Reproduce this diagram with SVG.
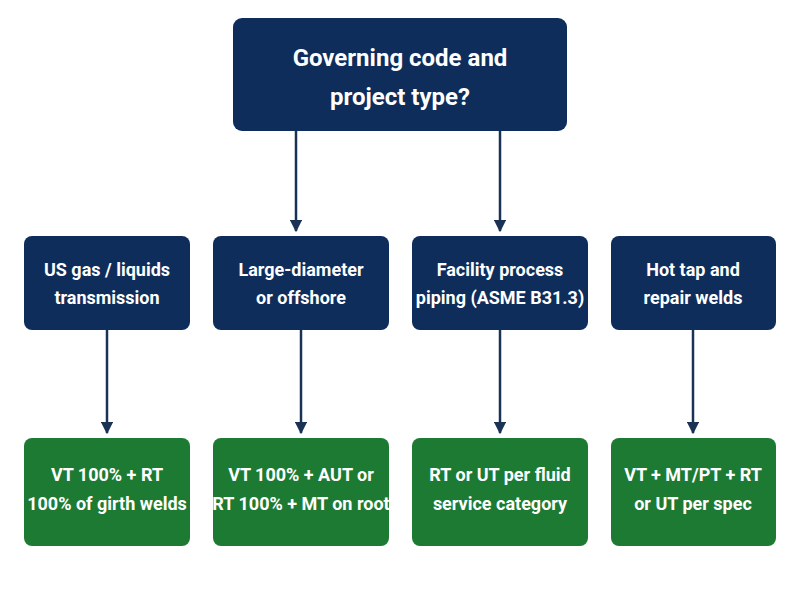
<svg xmlns="http://www.w3.org/2000/svg" width="800" height="600" viewBox="0 0 800 600">
<style>
.q{fill:#0e2d5b}
.r{fill:#1d7a33}
text{font-family:Roboto,"Liberation Sans",sans-serif;font-weight:bold;fill:#fff;text-anchor:middle}
.t{font-size:24px}
.s{font-size:18px}
.c{stroke:#1a3355;stroke-width:2.5;fill:none;marker-end:url(#a)}
</style>
<defs><marker id="a" viewBox="0 0 10 10" refX="9" refY="5" markerWidth="5" markerHeight="5" orient="auto"><path d="M0,0L10,5L0,10z" fill="#1a3355"/></marker></defs>
<rect width="800" height="600" fill="#fff"/>
<g id="connectors">
<path class="c" d="M296,131V231"/>
<path class="c" d="M500,131V231"/>
<path class="c" d="M107,330V433"/>
<path class="c" d="M301,330V433"/>
<path class="c" d="M500,330V433"/>
<path class="c" d="M693,330V433"/>
</g>
<g id="root"><rect class="q" x="233" y="18" width="334" height="113" rx="9"/><text class="t" x="400" y="66">Governing code and</text><text class="t" x="400" y="105">project type?</text></g>
<g id="m1"><rect class="q" x="24" y="236" width="166" height="94" rx="8"/><text class="s" x="107" y="276">US gas / liquids</text><text class="s" x="107" y="304">transmission</text></g>
<g id="m2"><rect class="q" x="213" y="236" width="176" height="94" rx="8"/><text class="s" x="301" y="276">Large-diameter</text><text class="s" x="301" y="304">or offshore</text></g>
<g id="m3"><rect class="q" x="412" y="236" width="176" height="94" rx="8"/><text class="s" x="500" y="276">Facility process</text><text class="s" x="500" y="304">piping (ASME B31.3)</text></g>
<g id="m4"><rect class="q" x="611" y="236" width="165" height="94" rx="8"/><text class="s" x="693" y="276">Hot tap and</text><text class="s" x="693" y="304">repair welds</text></g>
<g id="b1"><rect class="r" x="24" y="438" width="166" height="108" rx="8"/><text class="s" x="107" y="481">VT 100% + RT</text><text class="s" x="107" y="510">100% of girth welds</text></g>
<g id="b2"><rect class="r" x="213" y="438" width="176" height="108" rx="8"/><text class="s" x="301" y="481">VT 100% + AUT or</text><text class="s" x="301" y="510">RT 100% + MT on root</text></g>
<g id="b3"><rect class="r" x="412" y="438" width="176" height="108" rx="8"/><text class="s" x="500" y="481">RT or UT per fluid</text><text class="s" x="500" y="510">service category</text></g>
<g id="b4"><rect class="r" x="611" y="438" width="165" height="108" rx="8"/><text class="s" x="693" y="481">VT + MT/PT + RT</text><text class="s" x="693" y="510">or UT per spec</text></g>
</svg>
